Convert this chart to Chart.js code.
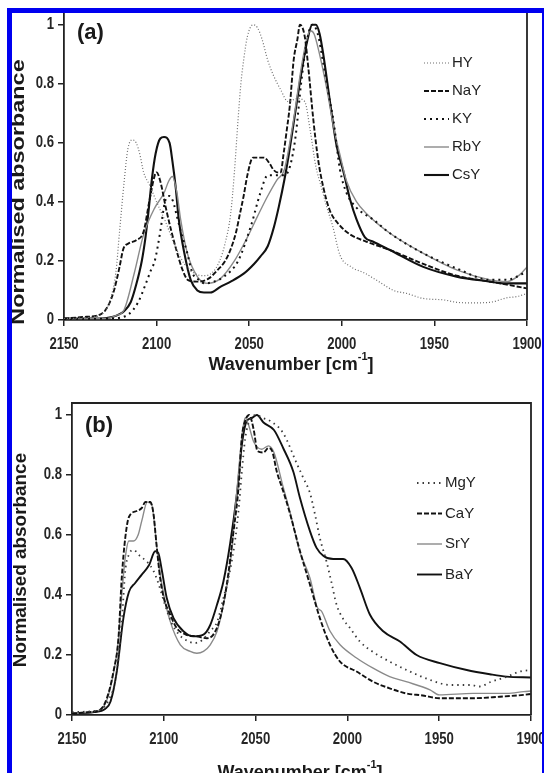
<!DOCTYPE html>
<html>
<head>
<meta charset="utf-8">
<script src="https://cdn.jsdelivr.net/npm/chart.js@4/dist/chart.umd.min.js"></script>
<style>
  html, body { margin: 0; padding: 0; background: #fff; }
  body { width: 544px; height: 773px; position: relative; overflow: hidden; }
  canvas { position: absolute; left: 0; }
  #chartA { top: 0; }
  #chartB { top: 380px; }
  #frame { position: absolute; left: 7px; top: 8px; width: 530px; height: 800px;
           border: 5px solid #0000f0; border-bottom: none; }
</style>
</head>
<body>
<canvas id="chartA" width="544" height="380"></canvas>
<canvas id="chartB" width="544" height="393"></canvas>
<div id="frame"></div>
<script>
// axis ticks shared by both panels
var xTicks = [2150, 2100, 2050, 2000, 1950, 1900];
var yTicks = [0, 0.2, 0.4, 0.6, 0.8, 1];

// ---- panel (a): alkali-exchanged Y ----
var hyX = [2150, 2135, 2128, 2125, 2122, 2120, 2117.5, 2115.5, 2113, 2111, 2109, 2107, 2104, 2100, 2095, 2090, 2085, 2080, 2075, 2070, 2066, 2063, 2060, 2058, 2056, 2054.5, 2053, 2051, 2048, 2045.5, 2043, 2040, 2037, 2033, 2029, 2024, 2020, 2017, 2014, 2011, 2008, 2005, 2001, 1995, 1988, 1980, 1972, 1965, 1956, 1945, 1938, 1930, 1920, 1911, 1905, 1900];
var hyY = [0.005, 0.01, 0.03, 0.07, 0.16, 0.3, 0.47, 0.58, 0.61, 0.6, 0.56, 0.5, 0.46, 0.4, 0.33, 0.25, 0.19, 0.16, 0.15, 0.16, 0.2, 0.26, 0.36, 0.5, 0.68, 0.8, 0.88, 0.96, 1.0, 0.99, 0.95, 0.88, 0.83, 0.78, 0.74, 0.75, 0.74, 0.64, 0.52, 0.45, 0.38, 0.32, 0.22, 0.18, 0.16, 0.13, 0.1, 0.09, 0.073, 0.068, 0.06, 0.058, 0.06, 0.075, 0.08, 0.09];

var naX = [2150, 2140, 2130, 2126, 2123, 2120, 2118, 2115, 2111, 2107, 2104, 2101, 2100, 2098, 2095, 2092, 2089, 2086, 2083, 2078, 2072, 2067, 2063, 2060, 2057, 2055, 2053, 2051, 2048, 2045, 2042, 2039, 2037, 2035, 2033, 2031.5, 2030, 2028, 2026, 2024, 2022.6, 2020, 2018, 2015.4, 2012.7, 2010, 2006.4, 2001, 1995.6, 1986.6, 1974, 1956, 1938, 1920, 1911, 1900];
var naY = [0.005, 0.01, 0.02, 0.05, 0.1, 0.18, 0.24, 0.26, 0.27, 0.3, 0.4, 0.49, 0.5, 0.47, 0.38, 0.3, 0.23, 0.17, 0.135, 0.13, 0.14, 0.17, 0.2, 0.24, 0.3, 0.36, 0.42, 0.49, 0.55, 0.55, 0.55, 0.53, 0.51, 0.5, 0.5, 0.56, 0.63, 0.73, 0.88, 0.95, 1.0, 0.96, 0.85, 0.68, 0.54, 0.45, 0.37, 0.32, 0.29, 0.265, 0.237, 0.19, 0.15, 0.13, 0.12, 0.107];

var kyX = [2150, 2125, 2115, 2110, 2106, 2103, 2101, 2098, 2095.5, 2093, 2091, 2089, 2086, 2084, 2080.7, 2077, 2074, 2069, 2063.6, 2056, 2049, 2044, 2040, 2035, 2031, 2028, 2025, 2022, 2019, 2016, 2013, 2010, 2007, 2004.6, 2001, 1997.4, 1992, 1983, 1974, 1956, 1938, 1920, 1911, 1902, 1900];
var kyY = [0.003, 0.005, 0.02, 0.06, 0.12, 0.17, 0.2, 0.3, 0.4, 0.42, 0.4, 0.35, 0.28, 0.24, 0.16, 0.135, 0.124, 0.13, 0.147, 0.2, 0.32, 0.43, 0.49, 0.49, 0.49, 0.52, 0.62, 0.8, 0.94, 1.0, 0.97, 0.87, 0.76, 0.68, 0.51, 0.43, 0.38, 0.34, 0.294, 0.226, 0.175, 0.136, 0.136, 0.158, 0.165];

var rbX = [2150, 2128, 2122, 2117.6, 2112, 2107, 2101, 2096, 2093.5, 2091.5, 2089, 2087, 2083.4, 2078, 2072.6, 2065.4, 2058, 2051, 2045.6, 2040, 2035, 2031, 2026, 2022, 2019, 2017, 2015, 2012, 2008, 2004, 2001, 1997.4, 1992, 1986.6, 1974, 1956, 1938, 1920, 1911, 1904, 1900];
var rbY = [0.005, 0.005, 0.015, 0.034, 0.16, 0.29, 0.38, 0.43, 0.47, 0.486, 0.43, 0.34, 0.226, 0.147, 0.124, 0.141, 0.2, 0.28, 0.35, 0.42, 0.475, 0.51, 0.68, 0.85, 0.95, 0.98, 0.97, 0.9, 0.78, 0.64, 0.56, 0.47, 0.4, 0.36, 0.294, 0.226, 0.17, 0.136, 0.13, 0.153, 0.18];

var csX = [2150, 2130, 2124, 2120, 2117.6, 2114, 2111, 2108, 2106, 2104.5, 2102.5, 2100.5, 2098, 2096, 2093, 2091.5, 2089.7, 2088, 2085, 2081.6, 2078, 2074.4, 2071, 2065.4, 2060, 2052.8, 2047.4, 2044, 2040, 2036.6, 2034, 2031, 2028.5, 2026, 2024, 2021.5, 2018.5, 2016, 2014, 2012, 2010, 2006.4, 2002.8, 1999, 1995.6, 1992, 1987.5, 1983, 1974, 1956, 1938, 1920, 1913, 1900];
var csY = [0.005, 0.005, 0.01, 0.02, 0.03, 0.06, 0.12, 0.2, 0.28, 0.36, 0.48, 0.565, 0.615, 0.62, 0.6, 0.54, 0.45, 0.34, 0.226, 0.136, 0.1, 0.093, 0.093, 0.113, 0.13, 0.158, 0.19, 0.215, 0.25, 0.316, 0.384, 0.475, 0.565, 0.667, 0.75, 0.85, 0.95, 1.0, 1.0, 0.97, 0.9, 0.74, 0.59, 0.5, 0.41, 0.34, 0.28, 0.265, 0.237, 0.18, 0.147, 0.13, 0.124, 0.124];

// ---- panel (b): alkaline-earth-exchanged Y ----
var mgX = [2150, 2136, 2130, 2126, 2123, 2121, 2119, 2116.5, 2113, 2109, 2105.6, 2103, 2100, 2096, 2092, 2088, 2083, 2079, 2074.7, 2071, 2067.5, 2064, 2061, 2059, 2057.5, 2055.7, 2054, 2050, 2046, 2042, 2035, 2027.7, 2024, 2020.4, 2017.7, 2015, 2011.3, 2008.6, 2006, 2002.3, 1998.6, 1993.2, 1986, 1977, 1966, 1955, 1944, 1933, 1928, 1922, 1913, 1906, 1900];
var mgY = [0.01, 0.015, 0.05, 0.13, 0.3, 0.48, 0.535, 0.55, 0.53, 0.51, 0.48, 0.44, 0.38, 0.31, 0.27, 0.25, 0.24, 0.25, 0.28, 0.31, 0.39, 0.48, 0.59, 0.7, 0.81, 0.92, 0.97, 1.0, 0.99, 0.98, 0.94, 0.84, 0.79, 0.74, 0.67, 0.59, 0.51, 0.44, 0.37, 0.32, 0.29, 0.245, 0.21, 0.178, 0.145, 0.117, 0.1, 0.1, 0.095, 0.11, 0.128, 0.145, 0.15];

var caX = [2150, 2140, 2134.7, 2131, 2127.4, 2124.7, 2122.9, 2121, 2119, 2114.7, 2112, 2110, 2107.4, 2105.6, 2104, 2102, 2100, 2096.5, 2093, 2088, 2082, 2076.6, 2073, 2069.3, 2065.7, 2062, 2059.3, 2057.5, 2055.7, 2053.5, 2051, 2049, 2045.7, 2043, 2041, 2038.4, 2035, 2031.2, 2026, 2020.4, 2015, 2009.5, 2004, 1995, 1986, 1977, 1968, 1959, 1950, 1931.5, 1917, 1904, 1900];
var caY = [0.005, 0.01, 0.017, 0.056, 0.145, 0.256, 0.457, 0.59, 0.66, 0.68, 0.69, 0.71, 0.71, 0.67, 0.57, 0.457, 0.39, 0.334, 0.29, 0.268, 0.262, 0.256, 0.268, 0.323, 0.435, 0.613, 0.758, 0.925, 0.98, 1.0, 0.95, 0.88, 0.875, 0.89, 0.88, 0.81, 0.747, 0.67, 0.55, 0.435, 0.323, 0.234, 0.178, 0.145, 0.111, 0.089, 0.072, 0.065, 0.056, 0.056, 0.061, 0.067, 0.07];

var srX = [2150, 2140, 2134.7, 2131, 2127.4, 2124.7, 2122.9, 2121, 2119, 2116.5, 2114, 2112, 2109, 2106.5, 2104.7, 2103, 2100, 2096.5, 2091, 2085.6, 2082, 2078.4, 2074.7, 2071, 2067.5, 2063.9, 2060, 2057.5, 2055.7, 2054, 2051, 2046.6, 2043, 2040, 2035, 2031, 2026, 2020.4, 2016.5, 2014, 2009.5, 2004, 1995, 1986, 1977, 1968, 1955, 1950, 1931.5, 1913, 1904, 1900];
var srY = [0.005, 0.01, 0.017, 0.05, 0.14, 0.25, 0.4, 0.524, 0.58, 0.58, 0.6, 0.647, 0.71, 0.7, 0.613, 0.513, 0.4, 0.312, 0.234, 0.212, 0.206, 0.212, 0.234, 0.279, 0.368, 0.5, 0.76, 0.925, 0.99, 0.97, 0.91, 0.886, 0.897, 0.875, 0.76, 0.67, 0.546, 0.457, 0.36, 0.345, 0.28, 0.234, 0.19, 0.156, 0.128, 0.111, 0.084, 0.067, 0.072, 0.072, 0.078, 0.08];

var baX = [2150, 2138, 2132, 2129, 2125.6, 2122, 2119, 2115.6, 2112, 2108, 2104.7, 2103, 2101, 2098.4, 2094.7, 2089.3, 2084, 2078.4, 2074.7, 2071, 2067.5, 2063.9, 2060, 2057.5, 2054.8, 2052, 2049.3, 2045.7, 2040, 2035, 2029.4, 2025.9, 2020.4, 2016.8, 2013, 2007.7, 2002.3, 1997.7, 1993.2, 1987.7, 1980.5, 1971.4, 1962.3, 1949.6, 1935, 1922.4, 1913.3, 1900];
var baY = [0.005, 0.01, 0.02, 0.045, 0.145, 0.323, 0.41, 0.44, 0.468, 0.5, 0.546, 0.54, 0.48, 0.39, 0.323, 0.279, 0.262, 0.268, 0.3, 0.368, 0.446, 0.57, 0.747, 0.9, 0.98, 0.99, 1.0, 0.975, 0.95, 0.89, 0.81, 0.725, 0.613, 0.557, 0.53, 0.52, 0.52, 0.49, 0.424, 0.334, 0.279, 0.245, 0.2, 0.173, 0.15, 0.136, 0.128, 0.125];

var FONT = '"Liberation Sans", Arial, sans-serif';

function pts(xs, ys) {
  return xs.map(function (x, i) { return { x: x, y: ys[i] }; });
}

function series(label, xs, ys, color, width, dash) {
  return {
    label: label,
    data: pts(xs, ys),
    borderColor: color,
    borderWidth: width,
    borderDash: dash,
    pointRadius: 0,
    fill: false,
    cubicInterpolationMode: 'monotone'
  };
}

function putText(ctx, str, x, y, font, o) {
  o = o || {};
  ctx.save();
  ctx.translate(x, y);
  if (o.rotate) ctx.rotate(o.rotate);
  ctx.scale(o.sx || 1, o.sy || 1);
  ctx.font = font;
  ctx.fillStyle = o.color || '#1a1a1a';
  ctx.textAlign = o.align || 'center';
  ctx.textBaseline = 'middle';
  ctx.fillText(str, 0, 0);
  ctx.restore();
}

// "Wavenumber [cm-1]" with a raised exponent
function xTitle(ctx, cx, cy) {
  var big = 'bold 18px ' + FONT, small = 'bold 11px ' + FONT;
  ctx.save();
  ctx.font = big;
  var w1 = ctx.measureText('Wavenumber [cm').width;
  var w3 = ctx.measureText(']').width;
  ctx.font = small;
  var w2 = ctx.measureText('-1').width;
  var x = cx - (w1 + w2 + w3) / 2;
  ctx.restore();
  putText(ctx, 'Wavenumber [cm', x, cy, big, { align: 'left' });
  putText(ctx, '-1', x + w1, cy - 8, small, { align: 'left' });
  putText(ctx, ']', x + w1 + w2, cy, big, { align: 'left' });
}

var decor = {
  id: 'decor',
  afterDraw: function (chart, args, o) {
    var ctx = chart.ctx, a = chart.chartArea;
    var sx = chart.scales.x, sy = chart.scales.y;

    // right (and optional top) frame lines
    ctx.save();
    ctx.strokeStyle = '#222';
    ctx.lineWidth = 1.8;
    ctx.beginPath();
    ctx.moveTo(a.right, a.bottom);
    ctx.lineTo(a.right, a.top);
    if (o.topLine) ctx.lineTo(a.left, a.top);
    ctx.stroke();
    ctx.restore();

    // tick labels, narrow face
    var tf = 'bold 16px ' + FONT;
    xTicks.forEach(function (v) {
      putText(ctx, String(v), sx.getPixelForValue(v), a.bottom + 25, tf, { sx: 0.82, color: '#262626' });
    });
    yTicks.forEach(function (v) {
      putText(ctx, String(v), a.left - 10, sy.getPixelForValue(v), tf, { sx: 0.82, align: 'right', color: '#262626' });
    });

    // axis titles
    xTitle(ctx, o.xTitleX, a.bottom + o.xTitleDy);
    putText(ctx, 'Normalised absorbance', o.yTitleX, o.yTitleY, 'bold 18px ' + FONT,
            { rotate: -Math.PI / 2, sx: o.yTitleStretch });

    // panel letter
    putText(ctx, o.panel, a.left + 13, o.panelY, 'bold 22px ' + FONT, { align: 'left' });

    // legend
    chart.data.datasets.forEach(function (ds, i) {
      var y = o.legendY + i * o.legendGap;
      ctx.save();
      ctx.strokeStyle = ds.borderColor;
      ctx.lineWidth = ds.borderWidth;
      ctx.setLineDash(ds.borderDash || []);
      ctx.beginPath();
      ctx.moveTo(o.legendX, y);
      ctx.lineTo(o.legendX + 25, y);
      ctx.stroke();
      ctx.restore();
      putText(ctx, ds.label, o.legendX + 28, y, '15px ' + FONT, { align: 'left', color: '#222' });
    });
  }
};

function makeChart(id, datasets, lay, deco) {
  return new Chart(document.getElementById(id), {
    type: 'line',
    data: { datasets: datasets },
    plugins: [decor],
    options: {
      responsive: false,
      animation: false,
      events: [],
      layout: { padding: { left: 0, right: lay.right, top: lay.top, bottom: 0 } },
      plugins: { legend: { display: false }, tooltip: { enabled: false }, decor: deco },
      scales: {
        x: {
          type: 'linear', reverse: true, min: 1900, max: 2150,
          afterBuildTicks: function (s) { s.ticks = xTicks.map(function (v) { return { value: v }; }); },
          afterFit: function (s) { s.height = lay.xh; },
          ticks: { display: false },
          grid: { drawOnChartArea: false, drawTicks: true, tickLength: 6, color: '#222', lineWidth: 1.5 },
          border: { display: true, color: '#222', width: 1.8 }
        },
        y: {
          min: 0, max: 1.04,
          afterBuildTicks: function (s) { s.ticks = yTicks.map(function (v) { return { value: v }; }); },
          afterFit: function (s) { s.width = lay.yw; },
          ticks: { display: false },
          grid: { drawOnChartArea: false, drawTicks: true, tickLength: 6, color: '#222', lineWidth: 1.5 },
          border: { display: true, color: '#222', width: 1.8 }
        }
      }
    }
  });
}

makeChart('chartA', [
  series('HY', hyX, hyY, '#6f6f6f', 1.2, [1, 2]),
  series('NaY', naX, naY, '#111', 1.9, [5, 2]),
  series('KY', kyX, kyY, '#111', 2, [2, 4]),
  series('RbY', rbX, rbY, '#8a8a8a', 1.4, []),
  series('CsY', csX, csY, '#111', 2.1, [])
], { right: 17, top: 13, xh: 60, yw: 64 }, {
  panel: '(a)', panelY: 33, topLine: false,
  xTitleX: 291, xTitleDy: 45, yTitleX: 19, yTitleY: 192, yTitleStretch: 1.3,
  legendX: 424, legendY: 63, legendGap: 28
});

makeChart('chartB', [
  series('MgY', mgX, mgY, '#3a3a3a', 1.8, [1.5, 4]),
  series('CaY', caX, caY, '#111', 1.9, [5, 2]),
  series('SrY', srX, srY, '#8a8a8a', 1.4, []),
  series('BaY', baX, baY, '#111', 1.9, [])
], { right: 13, top: 23, xh: 58, yw: 72 }, {
  panel: '(b)', panelY: 46, topLine: true,
  xTitleX: 300, xTitleDy: 58, yTitleX: 21, yTitleY: 180, yTitleStretch: 1.05,
  legendX: 417, legendY: 103, legendGap: 30.5
});
</script>
</body>
</html>
